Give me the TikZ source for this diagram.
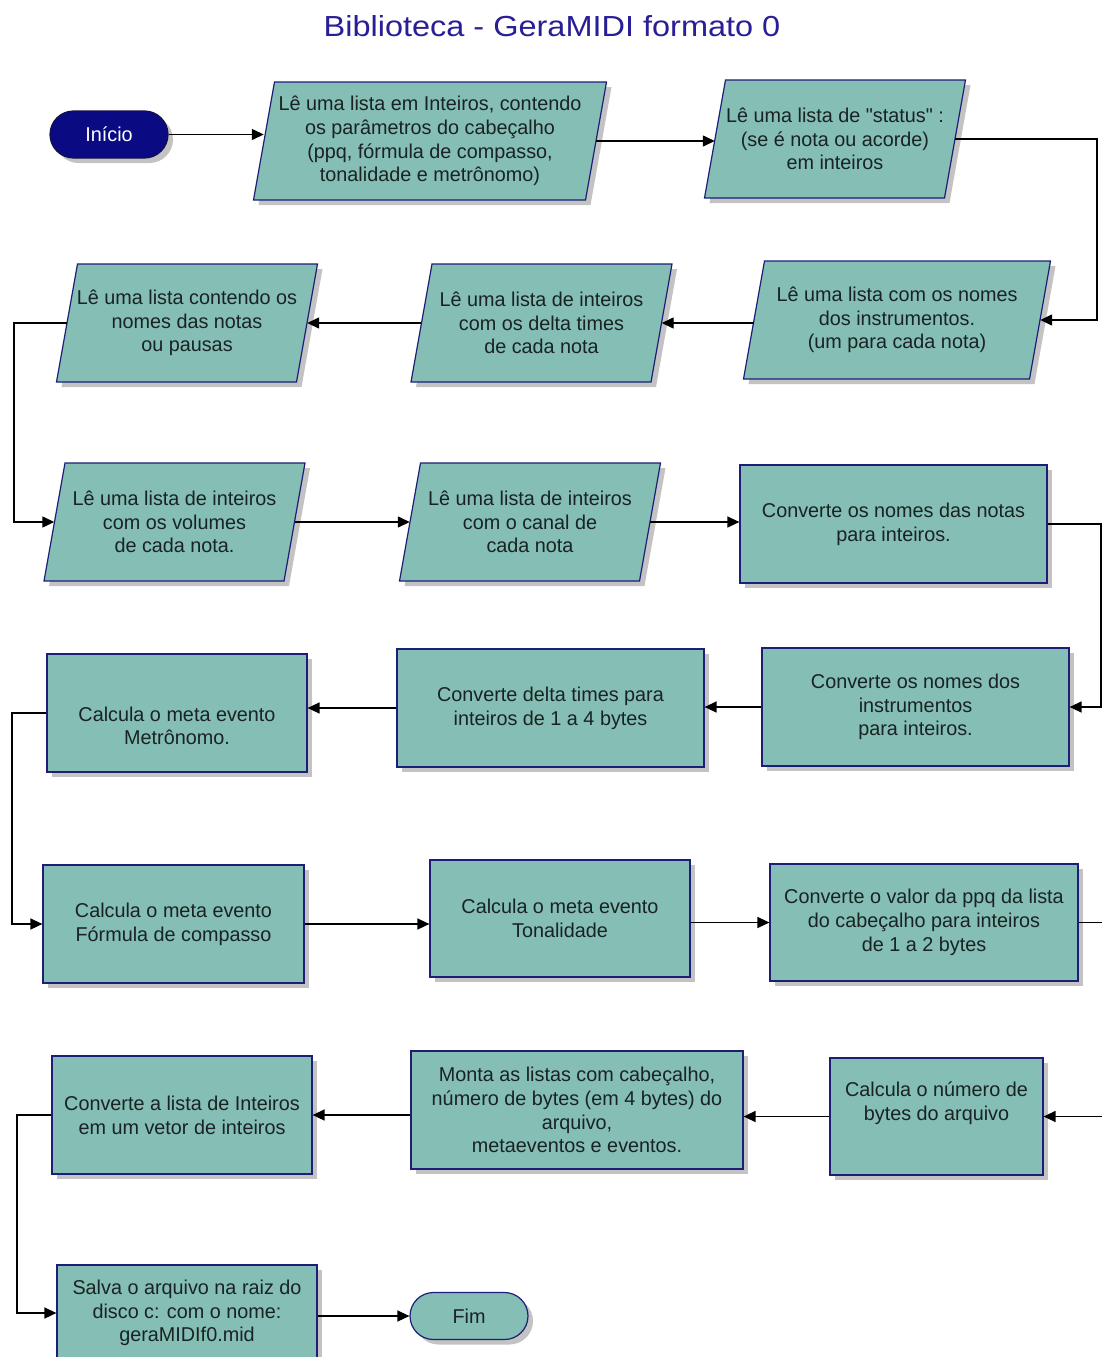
\documentclass[tikz,border=0pt]{standalone}
\usepackage{fontspec}
\setmainfont{Liberation Sans}[FakeStretch=0.99]
\newfontfamily\straightq{Liberation Sans}[FakeStretch=0.99]
\newfontfamily\headfont{Liberation Sans}[FakeStretch=1.12]
\usetikzlibrary{arrows.meta,shapes.misc,shadows}

\definecolor{boxfill}{RGB}{133,190,180}
\definecolor{boxline}{RGB}{30,30,120}
\definecolor{navyfill}{RGB}{10,10,130}
\definecolor{titleblue}{RGB}{40,30,150}
\definecolor{textdark}{RGB}{25,35,35}
\definecolor{shadowgray}{RGB}{195,195,195}

\tikzset{
  base/.style={font=\fontsize{20}{23.7}\selectfont, align=center, text=textdark, inner sep=0pt},
  boxshade/.style={drop shadow={shadow xshift=5pt, shadow yshift=-5pt, fill=shadowgray, opacity=1}},
  procbox/.style={base, rectangle, draw=boxline, line width=1.2pt, fill=boxfill,
                  minimum height=118pt, boxshade},
  iotext/.style={base, rectangle, minimum height=118pt},
  ioshape/.style={draw=boxline, line width=1.2pt, fill=boxfill},
  ioshadow/.style={fill=shadowgray},
  terminal/.style={base, rounded rectangle, draw=boxline, line width=1.2pt,
                   minimum width=118pt, minimum height=47pt, boxshade},
  flow/.style={draw=black, line width=1.4pt, -{Triangle[length=12pt,width=11pt]}},
}

% input/output block: name, centre x, centre y, width at mid height, text
\newcommand\iobox[5]{%
  \path[ioshadow] (#2-#4/2-10.5+5,#3+59+5) -- (#2+#4/2-10.5+5,#3+59+5)
     -- (#2+#4/2+10.5+5,#3-59+5) -- (#2-#4/2+10.5+5,#3-59+5) -- cycle;
  \path[ioshape] (#2-#4/2-10.5,#3+59) -- (#2+#4/2-10.5,#3+59)
     -- (#2+#4/2+10.5,#3-59) -- (#2-#4/2+10.5,#3-59) -- cycle;
  \node[iotext, minimum width=#4pt] (#1) at (#2,#3) {#5};
}

\begin{document}
\begin{tikzpicture}[x=1pt,y=-1pt]
\useasboundingbox (0,0) rectangle (1102,1357);
\fill[white] (0,0) rectangle (1102,1357);
\clip (0,0) rectangle (1102,1357);

\node[font=\headfont\fontsize{29}{32}\selectfont, text=titleblue, anchor=base, inner sep=0pt]
  (title) at (552,36) {Biblioteca - GeraMIDI formato 0};

% terminals
\node[terminal, fill=navyfill, text=white, draw=boxline!60!black] (start) at (109,134.5) {Início};
\node[terminal, fill=boxfill] (fim) at (469,1316) {Fim};

% reading steps
\iobox{P1}{430}{141}{332}{Lê uma lista em Inteiros, contendo\\os parâmetros do cabeçalho\\(ppq, fórmula de compasso,\\tonalidade e metrônomo)}
\iobox{P2}{835}{139}{240}{Lê uma lista de {\straightq"}status{\straightq"} :\\(se é nota ou acorde)\\em inteiros}
\iobox{P3}{897}{320}{286}{Lê uma lista com os nomes\\dos instrumentos.\\(um para cada nota)}
\iobox{P4}{541.5}{323}{240}{Lê uma lista de inteiros\\com os delta times\\de cada nota}
\iobox{P5}{187}{323}{240}{Lê uma lista contendo os\\nomes das notas\\ou pausas}
\iobox{P6}{174.5}{522}{240}{Lê uma lista de inteiros\\com os volumes\\de cada nota.}
\iobox{P7}{530}{522}{240}{Lê uma lista de inteiros\\com o canal de\\cada nota}

% processing steps
\node[procbox, minimum width=307pt] (R1) at (893.5,524) {Converte os nomes das notas\\para inteiros.};
\node[procbox, minimum width=307pt] (R2) at (915.5,707) {Converte os nomes dos\\instrumentos\\para inteiros.};
\node[procbox, minimum width=307pt] (R3) at (550.5,708) {Converte delta times para\\inteiros de 1 a 4 bytes};
\node[procbox, minimum width=260pt] (R4) at (177,713) {\strut\\Calcula o meta evento\\Metrônomo.};
\node[procbox, minimum width=261pt] (R5) at (173.5,924) {Calcula o meta evento\\Fórmula de compasso};
\node[procbox, minimum width=260pt, minimum height=117pt] (R6) at (560,918.5) {Calcula o meta evento\\Tonalidade};
\node[procbox, minimum width=308pt, minimum height=117pt] (R7) at (924,922.5) {Converte o valor da ppq da lista\\do cabeçalho para inteiros\\de 1 a 2 bytes};
\node[procbox, minimum width=213pt, minimum height=117pt] (R8) at (936.5,1116.5) {Calcula o número de\\bytes do arquivo\\\strut};
\node[procbox, minimum width=332pt] (R9) at (577,1110) {Monta as listas com cabeçalho,\\número de bytes (em 4 bytes) do\\arquivo,\\metaeventos e eventos.};
\node[procbox, minimum width=260pt] (R10) at (182,1115) {Converte a lista de Inteiros\\em um vetor de inteiros};
\node[procbox, minimum width=260pt, minimum height=96pt] (R11) at (187,1313) {Salva o arquivo na raiz do\\disco c: com o nome:\\geraMIDIf0.mid};

% routing columns for the turn-around connectors
\coordinate (xr1) at (1097,0);
\coordinate (xr2) at (1101,0);
\coordinate (xr3) at (1112,0);
\coordinate (xl1) at (14,0);
\coordinate (xl2) at (12,0);
\coordinate (xl3) at (17,0);

% connectors
\draw[flow] (start.east) -- (start.east -| P1.west);
\draw[flow] (P1.east) -- (P1.east -| P2.west);
\draw[flow] (P2.east) -- (P2.east -| xr1) |- (P3.east);
\draw[flow] (P4.east -| P3.west) -- (P4.east);
\draw[flow] (P4.west) -- (P5.east);
\draw[flow] (P5.west) -- (P5.west -| xl1) |- (P6.west);
\draw[flow] (P6.east) -- (P7.west);
\draw[flow] (P7.east) -- (P7.east -| R1.west);
\draw[flow] (R1.east) -- (R1.east -| xr2) |- (R2.east);
\draw[flow] (R2.west) -- (R2.west -| R3.east);
\draw[flow] (R3.west) -- (R3.west -| R4.east);
\draw[flow] (R4.west) -- (R4.west -| xl2) |- (R5.west);
\draw[flow] (R5.east) -- (R5.east -| R6.west);
\draw[flow] (R7.west -| R6.east) -- (R7.west);
\draw[flow] (R7.east) -- (R7.east -| xr3) |- (R8.east);
\draw[flow] (R8.west) -- (R8.west -| R9.east);
\draw[flow] (R10.east -| R9.west) -- (R10.east);
\draw[flow] (R10.west) -- (R10.west -| xl3) |- (R11.west);
\draw[flow] (fim.west -| R11.east) -- (fim.west);
\end{tikzpicture}
\end{document}
